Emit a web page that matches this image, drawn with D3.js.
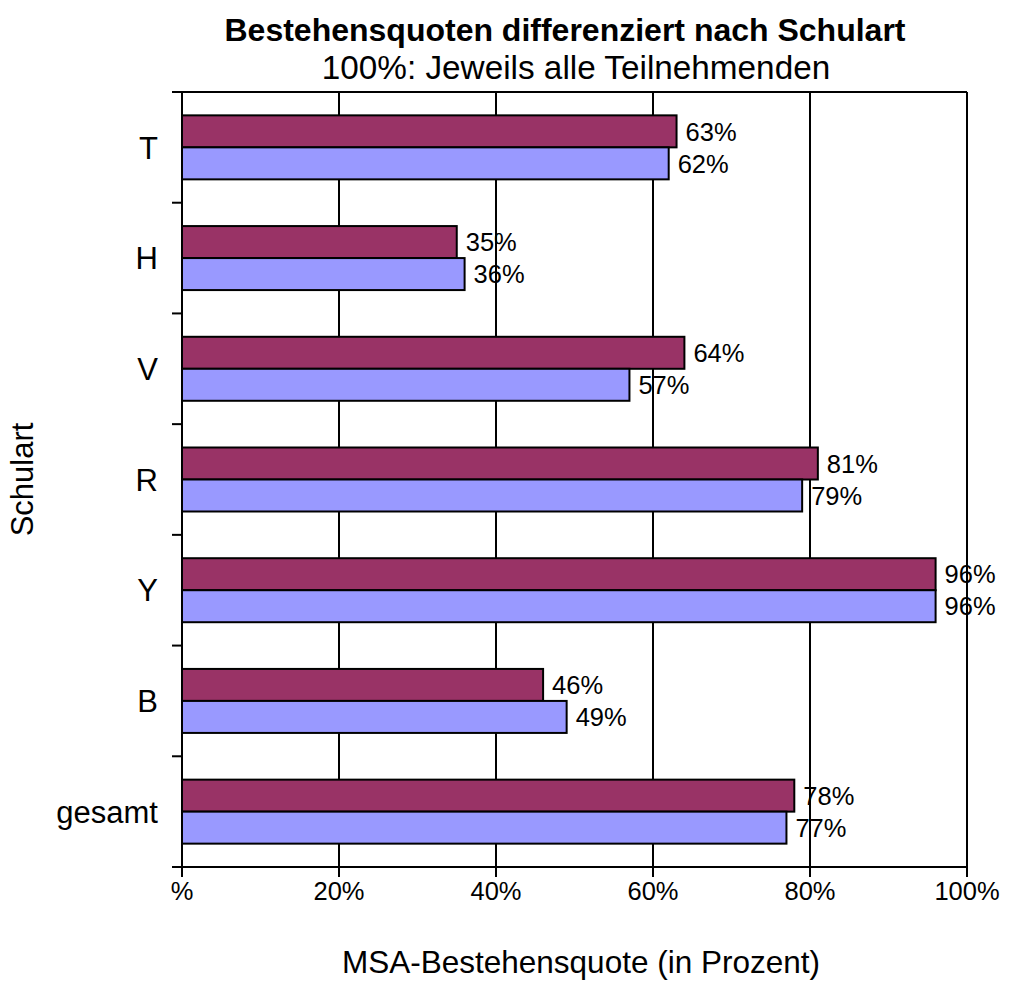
<!DOCTYPE html>
<html>
<head>
<meta charset="utf-8">
<script src="https://cdn.jsdelivr.net/npm/d3@7"></script>
<style>
  html, body { margin: 0; padding: 0; background: #fff; }
  svg { display: block; font-family: "Liberation Sans", Arial, sans-serif; }
</style>
</head>
<body>
<svg id="chart" width="1009" height="981"></svg>
<script>
// ---- data ----
const categories = ["T", "H", "V", "R", "Y", "B", "gesamt"];
const seriesNames = ["Reihe 1", "Reihe 2"];
const valuesSeries1 = [63, 35, 64, 81, 96, 46, 78];
const valuesSeries2 = [62, 36, 57, 79, 96, 49, 77];
const xTickValues = [0, 20, 40, 60, 80, 100];
const xTickLabels = ["%", "20%", "40%", "60%", "80%", "100%"];
const titleText = "Bestehensquoten differenziert nach Schulart";
const subtitleText = "100%: Jeweils alle Teilnehmenden";
const xAxisTitle = "MSA-Bestehensquote (in Prozent)";
const yAxisTitle = "Schulart";
const seriesColors = ["#993366", "#9999FF"];

(function () {
// ---- layout ----
const svg = d3.select("#chart");
const pLeft = 182, pRight = 967, pTop = 92, pBottom = 867;

const x = d3.scaleLinear().domain([0, 100]).range([pLeft, pRight]);
const y = d3.scaleBand().domain(categories).range([pTop, pBottom]).paddingInner(0).paddingOuter(0);
const inner = d3.scaleBand().domain([0, 1]).range([0, y.bandwidth()]).paddingOuter(0.73).paddingInner(0);

const rows = categories.map((c, i) => ({ cat: c, vals: [valuesSeries1[i], valuesSeries2[i]] }));

// gridlines
svg.append("g").selectAll("line").data(xTickValues.filter(v => v > 0)).join("line")
  .attr("x1", d => x(d)).attr("x2", d => x(d))
  .attr("y1", pTop).attr("y2", pBottom)
  .attr("stroke", "#000").attr("stroke-width", 2);

// top border
svg.append("line").attr("x1", pLeft).attr("x2", pRight).attr("y1", pTop).attr("y2", pTop)
  .attr("stroke", "#000").attr("stroke-width", 2);

// bars
const groups = svg.append("g").selectAll("g").data(rows).join("g")
  .attr("transform", d => `translate(0,${y(d.cat)})`);

groups.selectAll("rect").data(d => d.vals.map((v, k) => ({ v, k }))).join("rect")
  .attr("x", x(0))
  .attr("y", d => inner(d.k))
  .attr("width", d => x(d.v) - x(0))
  .attr("height", inner.bandwidth())
  .attr("fill", d => seriesColors[d.k])
  .attr("stroke", "#000").attr("stroke-width", 2);

groups.selectAll("text").data(d => d.vals.map((v, k) => ({ v, k }))).join("text")
  .attr("x", d => x(d.v) + 9)
  .attr("y", d => inner(d.k) + inner.bandwidth() / 2)
  .attr("dy", "0.36em")
  .attr("font-size", 25.5)
  .attr("fill", "#000")
  .text(d => d.v + "%");

// y axis
const yAxisG = svg.append("g");
yAxisG.append("line").attr("x1", pLeft).attr("x2", pLeft).attr("y1", pTop).attr("y2", pBottom + 10)
  .attr("stroke", "#000").attr("stroke-width", 2);
const boundaries = categories.map(c => y(c)).concat([pBottom]);
yAxisG.selectAll("line.tick").data(boundaries).join("line").attr("class", "tick")
  .attr("x1", pLeft - 10).attr("x2", pLeft).attr("y1", d => d).attr("y2", d => d)
  .attr("stroke", "#000").attr("stroke-width", 2);
yAxisG.selectAll("text").data(categories).join("text")
  .attr("x", pLeft - 24)
  .attr("y", d => y(d) + y.bandwidth() / 2)
  .attr("dy", "0.36em")
  .attr("text-anchor", "end")
  .attr("font-size", 31)
  .text(d => d);

// x axis
const xAxisG = svg.append("g");
xAxisG.append("line").attr("x1", pLeft).attr("x2", pRight).attr("y1", pBottom).attr("y2", pBottom)
  .attr("stroke", "#000").attr("stroke-width", 2);
xAxisG.selectAll("line.tick").data(xTickValues).join("line").attr("class", "tick")
  .attr("x1", d => x(d)).attr("x2", d => x(d)).attr("y1", pBottom).attr("y2", pBottom + 10)
  .attr("stroke", "#000").attr("stroke-width", 2);
xAxisG.selectAll("text").data(xTickValues).join("text")
  .attr("x", d => x(d))
  .attr("y", pBottom + 33)
  .attr("text-anchor", "middle")
  .attr("font-size", 25.5)
  .text((d, i) => xTickLabels[i]);

// titles
svg.append("text").attr("x", 565).attr("y", 41).attr("text-anchor", "middle")
  .attr("font-size", 32).attr("font-weight", "bold").text(titleText);
svg.append("text").attr("x", 576).attr("y", 79).attr("text-anchor", "middle")
  .attr("font-size", 33.3).text(subtitleText);
svg.append("text").attr("x", 581).attr("y", 973).attr("text-anchor", "middle")
  .attr("font-size", 31.5).text(xAxisTitle);
svg.append("text").attr("transform", `translate(33,${(pTop + pBottom) / 2}) rotate(-90)`)
  .attr("text-anchor", "middle").attr("font-size", 31).text(yAxisTitle);
})();
</script>
</body>
</html>
